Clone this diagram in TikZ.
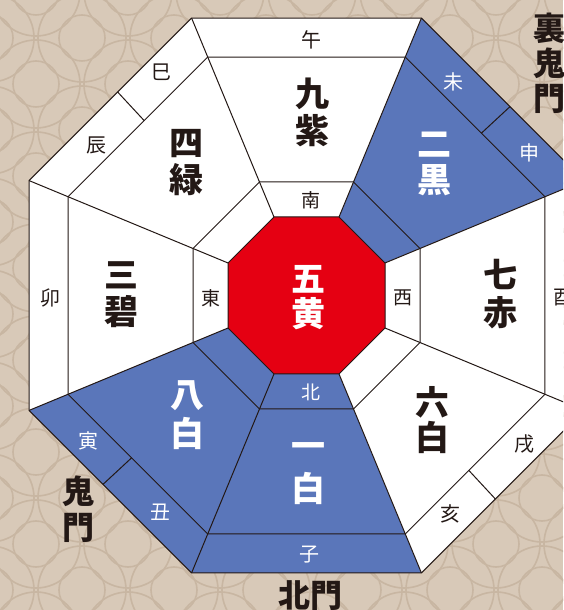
\documentclass[tikz,border=0pt]{standalone}
\usepackage{fontspec}
\newfontfamily\jp{Noto Sans CJK JP}
\usetikzlibrary{calc}
\definecolor{bg}{HTML}{D8C9B8}
\definecolor{pat}{HTML}{C8B6A2}
\definecolor{blu}{HTML}{5A76BA}
\definecolor{rd}{HTML}{E50012}
\definecolor{ink}{HTML}{231815}
\tikzset{
  sec/.style={line width=1pt, draw=ink, line join=miter},
  big/.style={font=\jp\bfseries\fontsize{34}{34}\selectfont, inner sep=0pt},
  sml/.style={font=\jp\fontsize{20}{20}\selectfont, inner sep=0pt},
  dirl/.style={font=\jp\fontsize{19}{19}\selectfont, inner sep=0pt},
  gate/.style={font=\jp\bfseries\fontsize{32}{32}\selectfont, inner sep=0pt, text=ink},
  wt/.style={text=white},
  bk/.style={text=ink}
}
\begin{document}
\begin{tikzpicture}[x=1pt,y=1pt]
\useasboundingbox (0,0) rectangle (563,610);
\begin{scope}
\clip (0,0) rectangle (563,610);
\fill[bg] (0,0) rectangle (563,610);
\foreach \a in {-2,...,6} {
  \foreach \b in {-2,...,7} {
    \draw[pat, line width=1.6pt] (82+92*\a, 572-92*\b) circle (44) circle (23);
    \draw[pat, line width=1.6pt] (128+92*\a, 526-92*\b) circle (44) circle (23);
  }
}
\coordinate (O) at (306.5,314.5);
\foreach \k in {0,...,7} {
  \coordinate (v\k-1) at ($(O)+({22.5+45*\k}:84.97)$);
  \coordinate (v\k-2) at ($(O)+({22.5+45*\k}:122.85)$);
  \coordinate (v\k-3) at ($(O)+({22.5+45*\k}:258.15)$);
  \coordinate (v\k-4) at ($(O)+({22.5+45*\k}:300.36)$);
}
% sector fills
\foreach \s/\t/\c in {0/1/blu,1/2/white,2/3/white,3/4/white,4/5/blu,5/6/blu,6/7/white,7/0/white} {
  \fill[\c] (v\s-1) -- (v\s-4) -- (v\t-4) -- (v\t-1) -- cycle;
}
% octagon outlines
\foreach \r in {2,3,4} {
  \draw[sec] (v0-\r) -- (v1-\r) -- (v2-\r) -- (v3-\r) -- (v4-\r) -- (v5-\r) -- (v6-\r) -- (v7-\r) -- cycle;
}
% radial lines
\foreach \k in {0,...,7} {
  \draw[sec] (v\k-1) -- (v\k-4);
}
% dividers in diagonal outer bands
\foreach \s/\t in {0/1,2/3,4/5,6/7} {
  \draw[sec] ($(v\s-3)!0.455!(v\t-3)$) -- ($(v\s-4)!0.455!(v\t-4)$);
}
% centre
\fill[rd, draw=ink, line width=1pt] (v0-1) -- (v1-1) -- (v2-1) -- (v3-1) -- (v4-1) -- (v5-1) -- (v6-1) -- (v7-1) -- cycle;

% twelve branches
\node[sml,bk] (wu) at (311,570) {午};
\node[sml,wt] (wei) at (453,528) {未};
\node[sml,wt] (shen) at (529,457) {申};
\node[sml,bk] (you) at (563,312) {酉};
\node[sml,bk] (xu) at (524,166) {戌};
\node[sml,bk] (hai) at (450,96) {亥};
\node[sml,wt] (zi) at (309,55) {子};
\node[sml,wt] (chou) at (160,98) {丑};
\node[sml,wt] (yin) at (88,169) {寅};
\node[sml,bk] (mao) at (50,312) {卯};
\node[sml,bk] (chen) at (96,465) {辰};
\node[sml,bk] (si) at (161,538) {巳};
% directions
\node[dirl,bk] (nan) at (311,410) {南};
\node[dirl,bk] (xi) at (403,312) {西};
\node[dirl,wt] (bei) at (311,218) {北};
\node[dirl,bk] (dong) at (211,312) {東};
% stars
\node[big,bk] (k1) at (312,516) {九};
\node[big,bk] (k2) at (312,479) {紫};
\node[big,wt] (n1) at (434,465) {二};
\node[big,wt] (n2) at (434,430) {黒};
\node[big,bk] (s1) at (500,336) {七};
\node[big,bk] (s2) at (500,297) {赤};
\node[big,bk] (r1) at (432,208) {六};
\node[big,bk] (r2) at (432,173) {白};
\node[big,wt] (i1) at (308,159) {一};
\node[big,wt] (i2) at (308,122) {白};
\node[big,wt] (h1) at (187,214) {八};
\node[big,wt] (h2) at (187,177) {白};
\node[big,bk] (m1) at (121,335) {三};
\node[big,bk] (m2) at (121,298) {碧};
\node[big,bk] (y1) at (186,466) {四};
\node[big,bk] (y2) at (186,430) {緑};
\node[big,wt] (g1) at (308,331) {五};
\node[big,wt] (g2) at (308,296) {黄};
% gates
\node[gate] (ur1) at (549,582) {裏};
\node[gate] (ur2) at (549,547) {鬼};
\node[gate] (ur3) at (549,511) {門};
\node[gate] (ki1) at (78,119) {鬼};
\node[gate] (ki2) at (78,82) {門};
\node[gate] (hm) at (310,14) {北門};
\end{scope}
\end{tikzpicture}
\end{document}
